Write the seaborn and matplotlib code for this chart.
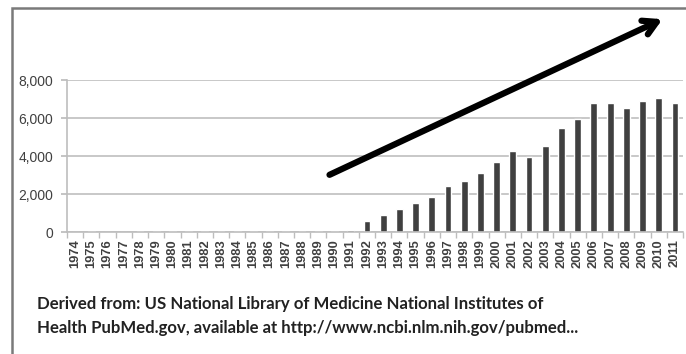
import numpy as np
import pandas as pd
import seaborn as sns
import matplotlib.pyplot as plt
from matplotlib.patches import Rectangle
from matplotlib.ticker import FuncFormatter, FixedLocator

years = [str(y) for y in range(1974, 2012)]
counts = [0, 40, 0, 0, 30, 30, 30, 30, 30, 30, 30, 30, 30, 30, 30, 30, 40, 100,
          600, 880, 1215, 1530, 1850, 2430, 2690, 3115, 3660, 4260, 3940, 4540,
          5490, 5930, 6780, 6810, 6550, 6900, 7075, 6780]
y_ticks = [0, 2000, 4000, 6000, 8000]
caption = ("Derived from: US National Library of Medicine National Institutes of\n"
           "Health PubMed.gov, available at http://www.ncbi.nlm.nih.gov/pubmed...")

df = pd.DataFrame({"year": years, "count": counts})

sns.set_theme(style="white")
plt.rcParams['font.family'] = ['Liberation Sans', 'DejaVu Sans']

fig = plt.figure(figsize=(6.86, 3.54), dpi=100)
ax = fig.add_axes([0.0977, 0.3446, 0.898, 0.4294])

sns.barplot(data=df, x="year", y="count", color="#404040", saturation=1,
            width=0.42, ax=ax)

ax.set_ylim(0, 8000)
ax.set_xlim(-0.5, len(years) - 0.5)
ax.set_yticks(y_ticks)
ax.yaxis.set_major_formatter(FuncFormatter(lambda v, p: f"{int(v):,}"))
ax.grid(axis="y", color="#c4c4c4", linewidth=1.3)
ax.set_axisbelow(True)
ax.set_xlabel("")
ax.set_ylabel("")

for side in ["top", "right"]:
    ax.spines[side].set_visible(False)
for side in ["left", "bottom"]:
    ax.spines[side].set_color("#bdbdbd")
    ax.spines[side].set_linewidth(1.2)

ax.tick_params(axis="y", labelsize=10, labelcolor="#404040", length=4,
               color="#bdbdbd", left=True, pad=6)
ax.tick_params(axis="x", which="major", labelsize=9.3, labelcolor="#404040",
               length=0, rotation=90, pad=5)
ax.xaxis.set_minor_locator(FixedLocator(np.arange(-0.5, len(years), 1)))
ax.tick_params(axis="x", which="minor", length=4, color="#bdbdbd", bottom=True)
for lab in ax.get_xticklabels():
    lab.set_fontweight("bold")

# frame of the original picture
fig.patches.append(Rectangle((12 / 686, -0.1), 1.1, 1 - 8 / 354 + 0.1,
                             transform=fig.transFigure, fill=False,
                             edgecolor="#7a7a7a", linewidth=1.8))

# trend arrow
ax.annotate("", xy=(665 / 686, 1 - 18 / 354), xytext=(327 / 686, 1 - 176 / 354),
            xycoords="figure fraction", textcoords="figure fraction",
            arrowprops=dict(arrowstyle="->,head_length=0.8,head_width=0.45",
                            color="black", linewidth=4.5))

fig.text(37 / 686, 1 - 316 / 354, caption, fontsize=12.1, color="#222222",
         family=["Lato", "DejaVu Sans"], fontweight="bold",
         linespacing=1.65, va="center")

fig.savefig("out.png", dpi=100)
